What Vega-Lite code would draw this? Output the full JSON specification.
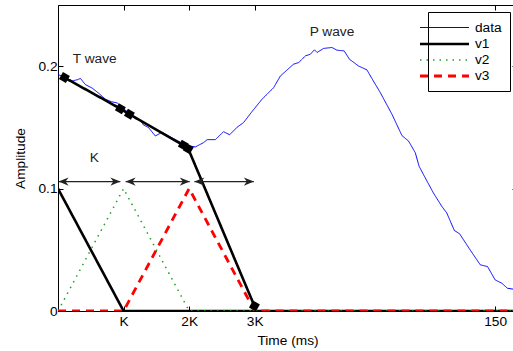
{
  "$schema": "https://vega.github.io/schema/vega-lite/v6.json",
  "autosize": "none",
  "padding": {"left": 58, "top": 5, "right": 0, "bottom": 40},
  "width": 459,
  "height": 306,
  "background": "white",
  "config": {
    "view": {"stroke": "black", "strokeWidth": 1},
    "font": "Liberation Sans",
    "axis": {
      "domainColor": "black",
      "tickColor": "black",
      "labelColor": "black",
      "titleColor": "black",
      "labelFont": "Liberation Sans",
      "titleFont": "Liberation Sans",
      "labelFontSize": 13.7,
      "titleFontSize": 13.7,
      "titleFontWeight": "normal",
      "grid": false,
      "tickSize": -5
    }
  },
  "datasets": {
    "lines": [
      {"series": "data", "seg": "d", "t": 0, "v": 0.193},
      {"series": "data", "seg": "d", "t": 1.5, "v": 0.192},
      {"series": "data", "seg": "d", "t": 2.9, "v": 0.19},
      {"series": "data", "seg": "d", "t": 5.0, "v": 0.188},
      {"series": "data", "seg": "d", "t": 6.7, "v": 0.189},
      {"series": "data", "seg": "d", "t": 7.7, "v": 0.19},
      {"series": "data", "seg": "d", "t": 9.4, "v": 0.185},
      {"series": "data", "seg": "d", "t": 11.8, "v": 0.182},
      {"series": "data", "seg": "d", "t": 13.9, "v": 0.178},
      {"series": "data", "seg": "d", "t": 16.3, "v": 0.173},
      {"series": "data", "seg": "d", "t": 18.3, "v": 0.171},
      {"series": "data", "seg": "d", "t": 20.3, "v": 0.17},
      {"series": "data", "seg": "d", "t": 22.1, "v": 0.166},
      {"series": "data", "seg": "d", "t": 24.2, "v": 0.162},
      {"series": "data", "seg": "d", "t": 26.6, "v": 0.157},
      {"series": "data", "seg": "d", "t": 28.3, "v": 0.156},
      {"series": "data", "seg": "d", "t": 29.3, "v": 0.152},
      {"series": "data", "seg": "d", "t": 31.0, "v": 0.15},
      {"series": "data", "seg": "d", "t": 33.4, "v": 0.143},
      {"series": "data", "seg": "d", "t": 35.7, "v": 0.146},
      {"series": "data", "seg": "d", "t": 37.9, "v": 0.143},
      {"series": "data", "seg": "d", "t": 40.3, "v": 0.14},
      {"series": "data", "seg": "d", "t": 42.7, "v": 0.137},
      {"series": "data", "seg": "d", "t": 44.7, "v": 0.135},
      {"series": "data", "seg": "d", "t": 47.1, "v": 0.134},
      {"series": "data", "seg": "d", "t": 49.9, "v": 0.1375},
      {"series": "data", "seg": "d", "t": 51.2, "v": 0.14},
      {"series": "data", "seg": "d", "t": 54.0, "v": 0.14},
      {"series": "data", "seg": "d", "t": 56.8, "v": 0.1465},
      {"series": "data", "seg": "d", "t": 58.9, "v": 0.144},
      {"series": "data", "seg": "d", "t": 61.4, "v": 0.15},
      {"series": "data", "seg": "d", "t": 63.7, "v": 0.154},
      {"series": "data", "seg": "d", "t": 66.6, "v": 0.163},
      {"series": "data", "seg": "d", "t": 70.0, "v": 0.173},
      {"series": "data", "seg": "d", "t": 74.0, "v": 0.1825},
      {"series": "data", "seg": "d", "t": 76.3, "v": 0.192},
      {"series": "data", "seg": "d", "t": 80.8, "v": 0.2016},
      {"series": "data", "seg": "d", "t": 82.6, "v": 0.203},
      {"series": "data", "seg": "d", "t": 84.9, "v": 0.2084},
      {"series": "data", "seg": "d", "t": 86.6, "v": 0.2098},
      {"series": "data", "seg": "d", "t": 88.0, "v": 0.2134},
      {"series": "data", "seg": "d", "t": 88.9, "v": 0.2112},
      {"series": "data", "seg": "d", "t": 91.1, "v": 0.2145},
      {"series": "data", "seg": "d", "t": 94.0, "v": 0.2153},
      {"series": "data", "seg": "d", "t": 95.7, "v": 0.2131},
      {"series": "data", "seg": "d", "t": 98.2, "v": 0.2125},
      {"series": "data", "seg": "d", "t": 100.0, "v": 0.2057},
      {"series": "data", "seg": "d", "t": 103.1, "v": 0.2002},
      {"series": "data", "seg": "d", "t": 106.0, "v": 0.197},
      {"series": "data", "seg": "d", "t": 107.7, "v": 0.19},
      {"series": "data", "seg": "d", "t": 110.6, "v": 0.1784},
      {"series": "data", "seg": "d", "t": 114.6, "v": 0.1607},
      {"series": "data", "seg": "d", "t": 118.0, "v": 0.1434},
      {"series": "data", "seg": "d", "t": 120.3, "v": 0.1388},
      {"series": "data", "seg": "d", "t": 122.6, "v": 0.1293},
      {"series": "data", "seg": "d", "t": 123.9, "v": 0.1183},
      {"series": "data", "seg": "d", "t": 125.4, "v": 0.1115},
      {"series": "data", "seg": "d", "t": 128.8, "v": 0.0965},
      {"series": "data", "seg": "d", "t": 131.7, "v": 0.0855},
      {"series": "data", "seg": "d", "t": 133.4, "v": 0.0801},
      {"series": "data", "seg": "d", "t": 136.0, "v": 0.0658},
      {"series": "data", "seg": "d", "t": 137.8, "v": 0.0631},
      {"series": "data", "seg": "d", "t": 141.4, "v": 0.05},
      {"series": "data", "seg": "d", "t": 144.9, "v": 0.0377},
      {"series": "data", "seg": "d", "t": 147.4, "v": 0.0363},
      {"series": "data", "seg": "d", "t": 150.0, "v": 0.0254},
      {"series": "data", "seg": "d", "t": 152.3, "v": 0.0227},
      {"series": "data", "seg": "d", "t": 154.2, "v": 0.0186},
      {"series": "data", "seg": "d", "t": 156.3, "v": 0.0178},
      {"series": "data", "seg": "d", "t": 157.5, "v": 0.0176},
      {"series": "v1", "seg": "a", "t": 0, "v": 0.1},
      {"series": "v1", "seg": "a", "t": 22.5, "v": 0},
      {"series": "v1", "seg": "a", "t": 157.5, "v": 0},
      {"series": "v1", "seg": "b", "t": 2.2, "v": 0.1907},
      {"series": "v1", "seg": "b", "t": 21.4, "v": 0.1653},
      {"series": "v1", "seg": "b", "t": 24.5, "v": 0.1607},
      {"series": "v1", "seg": "b", "t": 43.0, "v": 0.1355},
      {"series": "v1", "seg": "b", "t": 44.7, "v": 0.1325},
      {"series": "v1", "seg": "b", "t": 67.4, "v": 0.0041},
      {"series": "v2", "seg": "c", "t": 0, "v": 0},
      {"series": "v2", "seg": "c", "t": 22.5, "v": 0.1},
      {"series": "v2", "seg": "c", "t": 45, "v": 0},
      {"series": "v2", "seg": "c", "t": 157.5, "v": 0},
      {"series": "v3", "seg": "e", "t": 0, "v": 0},
      {"series": "v3", "seg": "e", "t": 22.5, "v": 0},
      {"series": "v3", "seg": "e", "t": 45, "v": 0.1},
      {"series": "v3", "seg": "e", "t": 67.5, "v": 0},
      {"series": "v3", "seg": "e", "t": 157.5, "v": 0}
    ],
    "markers": [
      {"t": 2.2, "v": 0.1907},
      {"t": 21.4, "v": 0.1653},
      {"t": 24.5, "v": 0.1607},
      {"t": 43.0, "v": 0.1355},
      {"t": 44.7, "v": 0.1325},
      {"t": 67.4, "v": 0.0041}
    ],
    "arrows": [
      {"a": 0.2, "b": 21.4, "v": 0.1057},
      {"a": 23.2, "b": 45.2, "v": 0.1057},
      {"a": 46.8, "b": 67.2, "v": 0.1057}
    ],
    "heads": [
      {"t": 0.2, "v": 0.1057, "dir": "L"},
      {"t": 21.4, "v": 0.1057, "dir": "R"},
      {"t": 23.2, "v": 0.1057, "dir": "L"},
      {"t": 45.2, "v": 0.1057, "dir": "R"},
      {"t": 46.8, "v": 0.1057, "dir": "L"},
      {"t": 67.2, "v": 0.1057, "dir": "R"}
    ],
    "labels": [
      {"t": 12.6, "v": 0.2057, "label": "T wave"},
      {"t": 12.5, "v": 0.1246, "label": "K"},
      {"t": 94.0, "v": 0.2279, "label": "P wave"}
    ]
  },
  "resolve": {"axis": {"x": "independent", "y": "independent"}},
  "layer": [
    {
      "data": {"name": "lines"},
      "mark": {"type": "line", "clip": true},
      "encoding": {
        "x": {
          "field": "t", "type": "quantitative",
          "scale": {"domain": [0, 157.5], "nice": false, "zero": false},
          "axis": {
            "orient": "bottom",
            "values": [22.5, 45, 67.5, 150],
            "labelExpr": "datum.value == 22.5 ? 'K' : datum.value == 45 ? '2K' : datum.value == 67.5 ? '3K' : '150'",
            "title": "Time (ms)",
            "labelPadding": 8,
            "titlePadding": 6
          }
        },
        "y": {
          "field": "v", "type": "quantitative",
          "scale": {"domain": [0, 0.25], "nice": false},
          "axis": {
            "orient": "left",
            "values": [0, 0.1, 0.2],
            "labelExpr": "datum.value == 0 ? '0' : datum.value == 0.1 ? '0.1' : '0.2'",
            "title": "Amplitude",
            "labelPadding": 6,
            "titlePadding": 10
          }
        },
        "detail": {"field": "seg"},
        "color": {
          "field": "series", "type": "nominal",
          "scale": {"domain": ["data", "v1", "v2", "v3"], "range": ["#0000ff", "#000000", "#22a022", "#ff0000"]},
          "legend": {
            "orient": "none",
            "legendX": 370,
            "legendY": 7,
            "title": null,
            "symbolType": "M-3.5,0H3.5",
            "symbolSize": 196,
            "labelOffset": 22,
            "labelFontSize": 13.7,
            "labelFont": "Liberation Sans",
            "labelColor": "black",
            "fillColor": "white",
            "strokeColor": "black",
            "padding": 8,
            "rowPadding": 0.5
          }
        },
        "strokeDash": {
          "field": "series", "type": "nominal",
          "scale": {"domain": ["data", "v1", "v2", "v3"], "range": [[1, 0], [1, 0], [1.5, 5], [8, 6]]}
        },
        "strokeWidth": {
          "field": "series", "type": "nominal",
          "scale": {"type": "ordinal", "domain": ["data", "v1", "v2", "v3"], "range": [1, 2.6, 1.5, 2.8]}
        }
      }
    },
    {
      "data": {"name": "arrows"},
      "mark": {"type": "rule", "color": "#222222", "strokeWidth": 1.3},
      "encoding": {
        "x": {"field": "a", "type": "quantitative", "axis": null},
        "x2": {"field": "b"},
        "y": {"field": "v", "type": "quantitative", "axis": null}
      }
    },
    {
      "data": {"name": "heads"},
      "mark": {"type": "point", "filled": true, "color": "#222222", "size": 400, "opacity": 1},
      "encoding": {
        "x": {"field": "t", "type": "quantitative", "axis": null},
        "y": {"field": "v", "type": "quantitative", "axis": null},
        "shape": {
          "field": "dir", "type": "nominal",
          "scale": {"domain": ["L", "R"], "range": ["M0,0L1,-0.42L0.7,0L1,0.42Z", "M0,0L-1,-0.42L-0.7,0L-1,0.42Z"]},
          "legend": null
        }
      }
    },
    {
      "data": {"name": "markers"},
      "mark": {"type": "point", "shape": "square", "filled": true, "color": "black", "size": 64, "angle": 30, "opacity": 1},
      "encoding": {
        "x": {"field": "t", "type": "quantitative", "axis": null},
        "y": {"field": "v", "type": "quantitative", "axis": null}
      }
    },
    {
      "data": {"name": "labels"},
      "mark": {"type": "text", "fontSize": 13.7, "font": "Liberation Sans", "color": "#222222", "baseline": "middle", "align": "center"},
      "encoding": {
        "x": {"field": "t", "type": "quantitative", "axis": {"orient": "top", "values": [22.5, 45, 67.5, 150], "labels": false, "title": null, "domain": false}},
        "y": {"field": "v", "type": "quantitative", "axis": {"orient": "right", "values": [0.1, 0.2], "labels": false, "title": null, "domain": false}},
        "text": {"field": "label"}
      }
    }
  ]
}
